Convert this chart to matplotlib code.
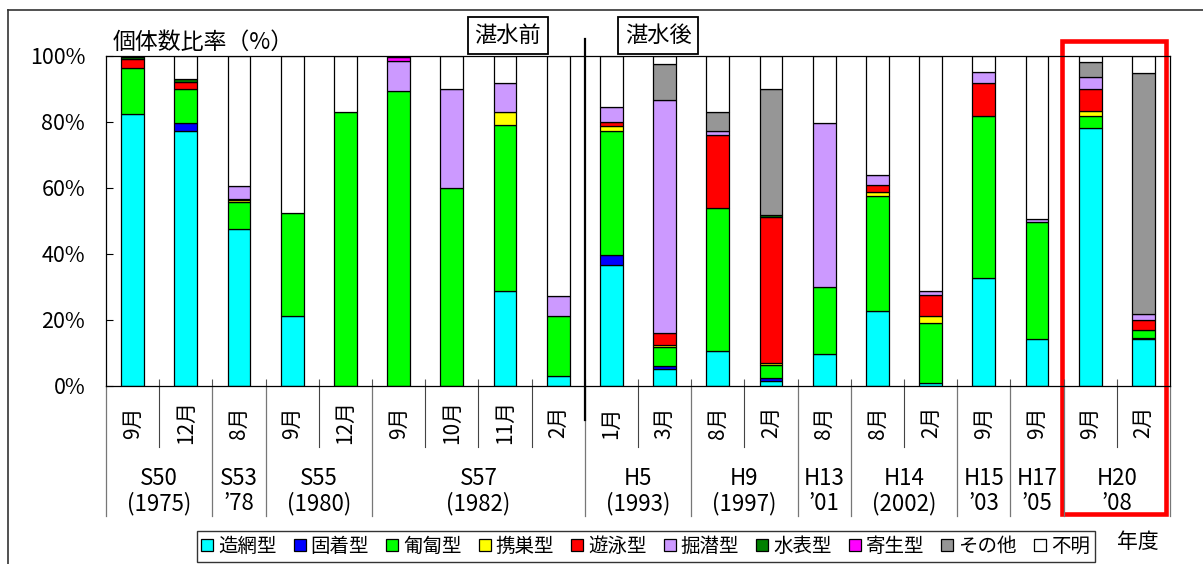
import numpy as np
import matplotlib
matplotlib.use('Agg')
from matplotlib import pyplot as plt
from matplotlib.lines import Line2D
from matplotlib.patches import Rectangle

plt.rcParams['font.family'] = ['Liberation Sans Narrow', 'Noto Sans CJK JP', 'DejaVu Sans']
CJK = ['Noto Sans CJK JP', 'DejaVu Sans']

# survey months (one bar each) and year groups
months = ['9月', '12月', '8月', '9月', '12月', '9月', '10月', '11月', '2月',
          '1月', '3月', '8月', '2月', '8月', '8月', '2月', '9月', '9月', '9月', '2月']
groups = ['S50\n(1975)', 'S53\n’78', 'S55\n(1980)', 'S57\n(1982)', 'H5\n(1993)', 'H9\n(1997)',
          'H13\n’01', 'H14\n(2002)', 'H15\n’03', 'H17\n’05', 'H20\n’08']
group_sizes = [2, 1, 2, 4, 2, 2, 1, 2, 1, 1, 2]

series_names = ['造網型', '固着型', '匍匐型', '携巣型', '遊泳型', '掘潜型', '水表型', '寄生型', 'その他', '不明']
series_colors = ['#00FFFF', '#0000FF', '#00FF00', '#FFFF00', '#FF0000', '#CC99FF', '#008000', '#FF00FF', '#969696', '#FFFFFF']

zoumou = [82.4, 77.4, 47.7, 21.1, 0, 0, 0, 28.8, 3.1, 36.8, 5.3, 10.6, 1.4, 9.6, 22.6, 1.0, 32.6, 14.1, 78.1, 14.1]
koyaku = [0, 2.2, 0, 0, 0, 0, 0, 0, 0, 2.9, 0.7, 0, 1.0, 0, 0, 0, 0, 0, 0, 0.5]
hofuku = [14.1, 10.3, 8.2, 31.2, 83.1, 89.4, 59.9, 50.2, 18.0, 37.6, 5.8, 43.2, 3.9, 20.3, 35.1, 18.1, 49.1, 35.5, 3.6, 2.3]
keisou = [0, 0, 0.4, 0, 0, 0, 0, 4.0, 0, 1.5, 0.7, 0, 0.7, 0, 1.1, 2.0, 0, 0, 1.7, 0]
yuuei = [2.6, 2.1, 0.4, 0, 0, 0, 0, 0, 0, 1.2, 3.7, 22.4, 44.3, 0, 2.2, 6.6, 10.0, 0, 6.5, 3.0]
kussen = [0, 0, 3.9, 0, 0, 9.2, 30.0, 8.7, 6.1, 4.5, 70.5, 1.2, 0, 49.7, 2.9, 1.1, 3.6, 1.1, 3.8, 1.8]
suihyou = [0.5, 0.9, 0, 0, 0, 0, 0, 0, 0, 0, 0, 0, 0.5, 0, 0, 0, 0, 0, 0, 0]
kisei = [0, 0, 0, 0, 0, 1.0, 0, 0, 0, 0, 0, 0, 0, 0, 0, 0, 0, 0, 0, 0]
sonota = [0, 0, 0, 0, 0, 0, 0, 0, 0, 0, 10.9, 5.6, 38.2, 0, 0, 0, 0, 0, 4.5, 73.2]
fumei = [0.4, 7.1, 39.4, 47.7, 16.9, 0.4, 10.1, 8.3, 72.8, 15.5, 2.4, 17.0, 10.0, 20.4, 36.1, 71.2, 4.7, 49.3, 1.8, 5.1]

series = [zoumou, koyaku, hofuku, keisou, yuuei, kussen, suihyou, kisei, sonota, fumei]

fig = plt.figure(figsize=(12.03, 5.64), dpi=100)
ax = fig.add_axes([106 / 1203, 178 / 564, 1064 / 1203, 330 / 564])

x = np.arange(len(months))
bottom = np.zeros(len(months))
for vals, color in zip(series, series_colors):
    vals = np.array(vals, dtype=float)
    edges = ['black' if v > 0 else 'none' for v in vals]
    ax.bar(x, vals, width=0.43, bottom=bottom, color=color, edgecolor=edges, linewidth=0.9)
    bottom += vals

ax.set_xlim(-0.5, len(months) - 0.5)
ax.set_ylim(0, 100)
ax.set_yticks(np.arange(0, 101, 20))
ax.set_yticklabels([f'{v}%' for v in range(0, 101, 20)], fontsize=15.5)
ax.tick_params(axis='y', direction='in', length=5, pad=15, width=0.8, colors='black')
ax.set_xticks(np.arange(0.5, len(months) - 1, 1))
ax.set_xticklabels([])
ax.tick_params(axis='x', direction='in', length=5, width=0.8, color='#555555')
for s in ax.spines.values():
    s.set_linewidth(0.9)

ax.text(0.006, 1.042, '個体数比率（%）', transform=ax.transAxes, ha='left', va='center',
        fontsize=16.5, family=CJK)

# table below the axis
tr = ax.get_xaxis_transform()
for i, m in enumerate(months):
    ax.text(i, -0.11, m, transform=tr, rotation=90, ha='center', va='center', fontsize=15)

edges_pos = np.cumsum([0] + group_sizes) - 0.5
for b in np.arange(0.5, len(months) - 1, 1):
    if b in edges_pos:
        continue
    ax.plot([b, b], [0, -0.185], transform=tr, color='#444444', lw=0.8, clip_on=False)
for b in edges_pos:
    ax.plot([b, b], [0, -0.394], transform=tr, color='#777777', lw=0.9, clip_on=False)
for g, lo, n in zip(groups, edges_pos[:-1], group_sizes):
    ax.text(lo + n / 2, -0.318, g, transform=tr, ha='center', va='center', fontsize=16,
            linespacing=1.1)

# before / after impoundment
ax.plot([8.5, 8.5], [1.052, -0.103], transform=tr, color='black', lw=1.6, clip_on=False)
box = dict(boxstyle='square,pad=0.3', fc='white', ec='black', lw=1.3)
ax.text(7.05, 1.062, '湛水前', transform=tr, ha='center', va='center', fontsize=16,
        family=CJK, bbox=box)
ax.text(9.88, 1.062, '湛水後', transform=tr, ha='center', va='center', fontsize=16,
        family=CJK, bbox=box)

ax.add_patch(Rectangle((17.47, -0.388), 1.95, 1.433, transform=tr, fill=False,
                       ec='#FF0000', lw=3.3, clip_on=False))

handles = [Line2D([], [], ls='none', marker='s', markersize=8, mfc=c, mec='black', mew=0.9)
           for c in series_colors]
fig.legend(handles, series_names, loc='center', bbox_to_anchor=(0.5366, 0.031), ncol=10,
           prop={'family': CJK, 'size': 14}, frameon=True, fancybox=False, edgecolor='#333333',
           framealpha=1, handlelength=0.6, handletextpad=0.25, columnspacing=0.9,
           borderpad=0.25)
fig.text(0.946, 0.039, '年度', ha='center', va='center', fontsize=15, family=CJK)

fig.add_artist(Line2D([8 / 1203, 8 / 1203], [0, 1 - 10 / 564], transform=fig.transFigure,
                      color='#333333', lw=1.2))
fig.add_artist(Line2D([8 / 1203, 1], [1 - 10 / 564, 1 - 10 / 564], transform=fig.transFigure,
                      color='#333333', lw=1.2))

fig.savefig('out.png', dpi=100)
